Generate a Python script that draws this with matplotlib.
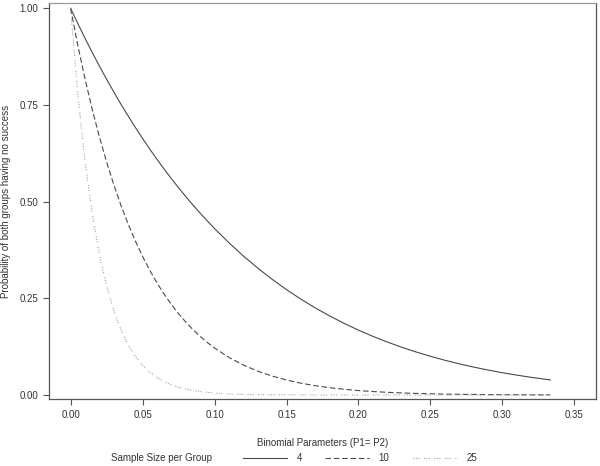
import matplotlib
matplotlib.use("Agg")
import matplotlib.pyplot as plt

plt.rcParams['font.family'] = ['Liberation Sans', 'DejaVu Sans']

# Binomial parameter values (P1 = P2)
p_values = [0.0, 0.005, 0.01, 0.015, 0.02, 0.025, 0.03, 0.035, 0.04, 0.045,
            0.05, 0.055, 0.06, 0.065, 0.07, 0.075, 0.08, 0.085, 0.09, 0.095,
            0.10, 0.11, 0.12, 0.13, 0.14, 0.15, 0.16, 0.17, 0.18, 0.19,
            0.20, 0.21, 0.22, 0.23, 0.24, 0.25, 0.26, 0.27, 0.28, 0.29,
            0.30, 0.31, 0.32, 0.33, 0.3333]

# Probability of both groups having no success, per sample size
prob_n4 = [1.0, 0.9607, 0.9227, 0.8861, 0.8508, 0.8167, 0.7838, 0.7520, 0.7214, 0.6919,
           0.6634, 0.6360, 0.6096, 0.5841, 0.5596, 0.5360, 0.5132, 0.4913, 0.4703, 0.4500,
           0.4305, 0.3937, 0.3596, 0.3282, 0.2992, 0.2725, 0.2479, 0.2252, 0.2044, 0.1853,
           0.1678, 0.1517, 0.1370, 0.1236, 0.1113, 0.1001, 0.0899, 0.0806, 0.0722, 0.0646,
           0.0576, 0.0514, 0.0457, 0.0406, 0.0390]
prob_n10 = [1.0, 0.9046, 0.8179, 0.7391, 0.6676, 0.6027, 0.5438, 0.4904, 0.4420, 0.3982,
            0.3585, 0.3226, 0.2901, 0.2607, 0.2342, 0.2103, 0.1887, 0.1692, 0.1516, 0.1358,
            0.1216, 0.0972, 0.0776, 0.0617, 0.0490, 0.0388, 0.0306, 0.0241, 0.0189, 0.0148,
            0.0115, 0.0090, 0.0070, 0.0054, 0.0041, 0.0032, 0.0024, 0.0018, 0.0014, 0.0011,
            0.0008, 0.0006, 0.0004, 0.0003, 0.0003]
prob_n25 = [1.0, 0.7783, 0.6050, 0.4697, 0.3642, 0.2820, 0.2181, 0.1684, 0.1299, 0.1000,
            0.0769, 0.0591, 0.0453, 0.0347, 0.0266, 0.0203, 0.0155, 0.0118, 0.0090, 0.0068,
            0.0052, 0.0029, 0.0017, 0.0009, 0.0005, 0.0003, 0.0002, 0.0001, 0.0, 0.0,
            0.0, 0.0, 0.0, 0.0, 0.0, 0.0, 0.0, 0.0, 0.0, 0.0,
            0.0, 0.0, 0.0, 0.0, 0.0]

series_labels = ['4', '10', '25']
x_ticks = [0.00, 0.05, 0.10, 0.15, 0.20, 0.25, 0.30, 0.35]
y_ticks = [0.00, 0.25, 0.50, 0.75, 1.00]

TEXT = '#333333'
fig = plt.figure(figsize=(6.0, 4.66), dpi=100)
ax = fig.add_axes([49/600, 1 - 399/466, (596 - 49)/600, (399 - 3)/466])

l1, = ax.plot(p_values, prob_n4, color='#4a4a4a', lw=0.8, ls='-')
l2, = ax.plot(p_values, prob_n10, color='#4a4a4a', lw=0.8, ls=(0, (5, 2.5)))
l3, = ax.plot(p_values, prob_n25, color='#a0a0a0', lw=0.8, ls=(0, (1, 1.2, 1, 1.2, 1, 4)))

ax.set_xlim(-0.015, 0.365)
ax.set_ylim(-0.0103, 1.0137)
ax.set_xticks(x_ticks)
ax.set_xticklabels([f'{v:.2f}' for v in x_ticks])
ax.set_yticks(y_ticks)
ax.set_yticklabels([f'{v:.2f}' for v in y_ticks])

for s in ax.spines.values():
    s.set_color('#555555')
    s.set_linewidth(0.9)
ax.spines['top'].set_color('#999999')

ax.tick_params(direction='out', length=4, width=0.8, color='#555555',
               labelsize=7, labelcolor=TEXT, pad=4)

ax.set_xlabel('Binomial Parameters (P1= P2)', fontsize=7, color=TEXT, labelpad=13)
ax.set_ylabel('Probability of both groups having no success', fontsize=7, color=TEXT, labelpad=6)

fig.text(111/600, 1 - 458/466, 'Sample Size per Group', fontsize=7, color=TEXT,
         ha='left', va='center')
fig.legend([l1, l2, l3], series_labels, loc='center left',
           bbox_to_anchor=(243/600, 1 - 458/466), ncol=3, frameon=False,
           fontsize=7, labelcolor=TEXT, handlelength=4.5, handletextpad=1.0,
           columnspacing=2.4, borderpad=0, borderaxespad=0)

fig.savefig('out.png', dpi=100)
